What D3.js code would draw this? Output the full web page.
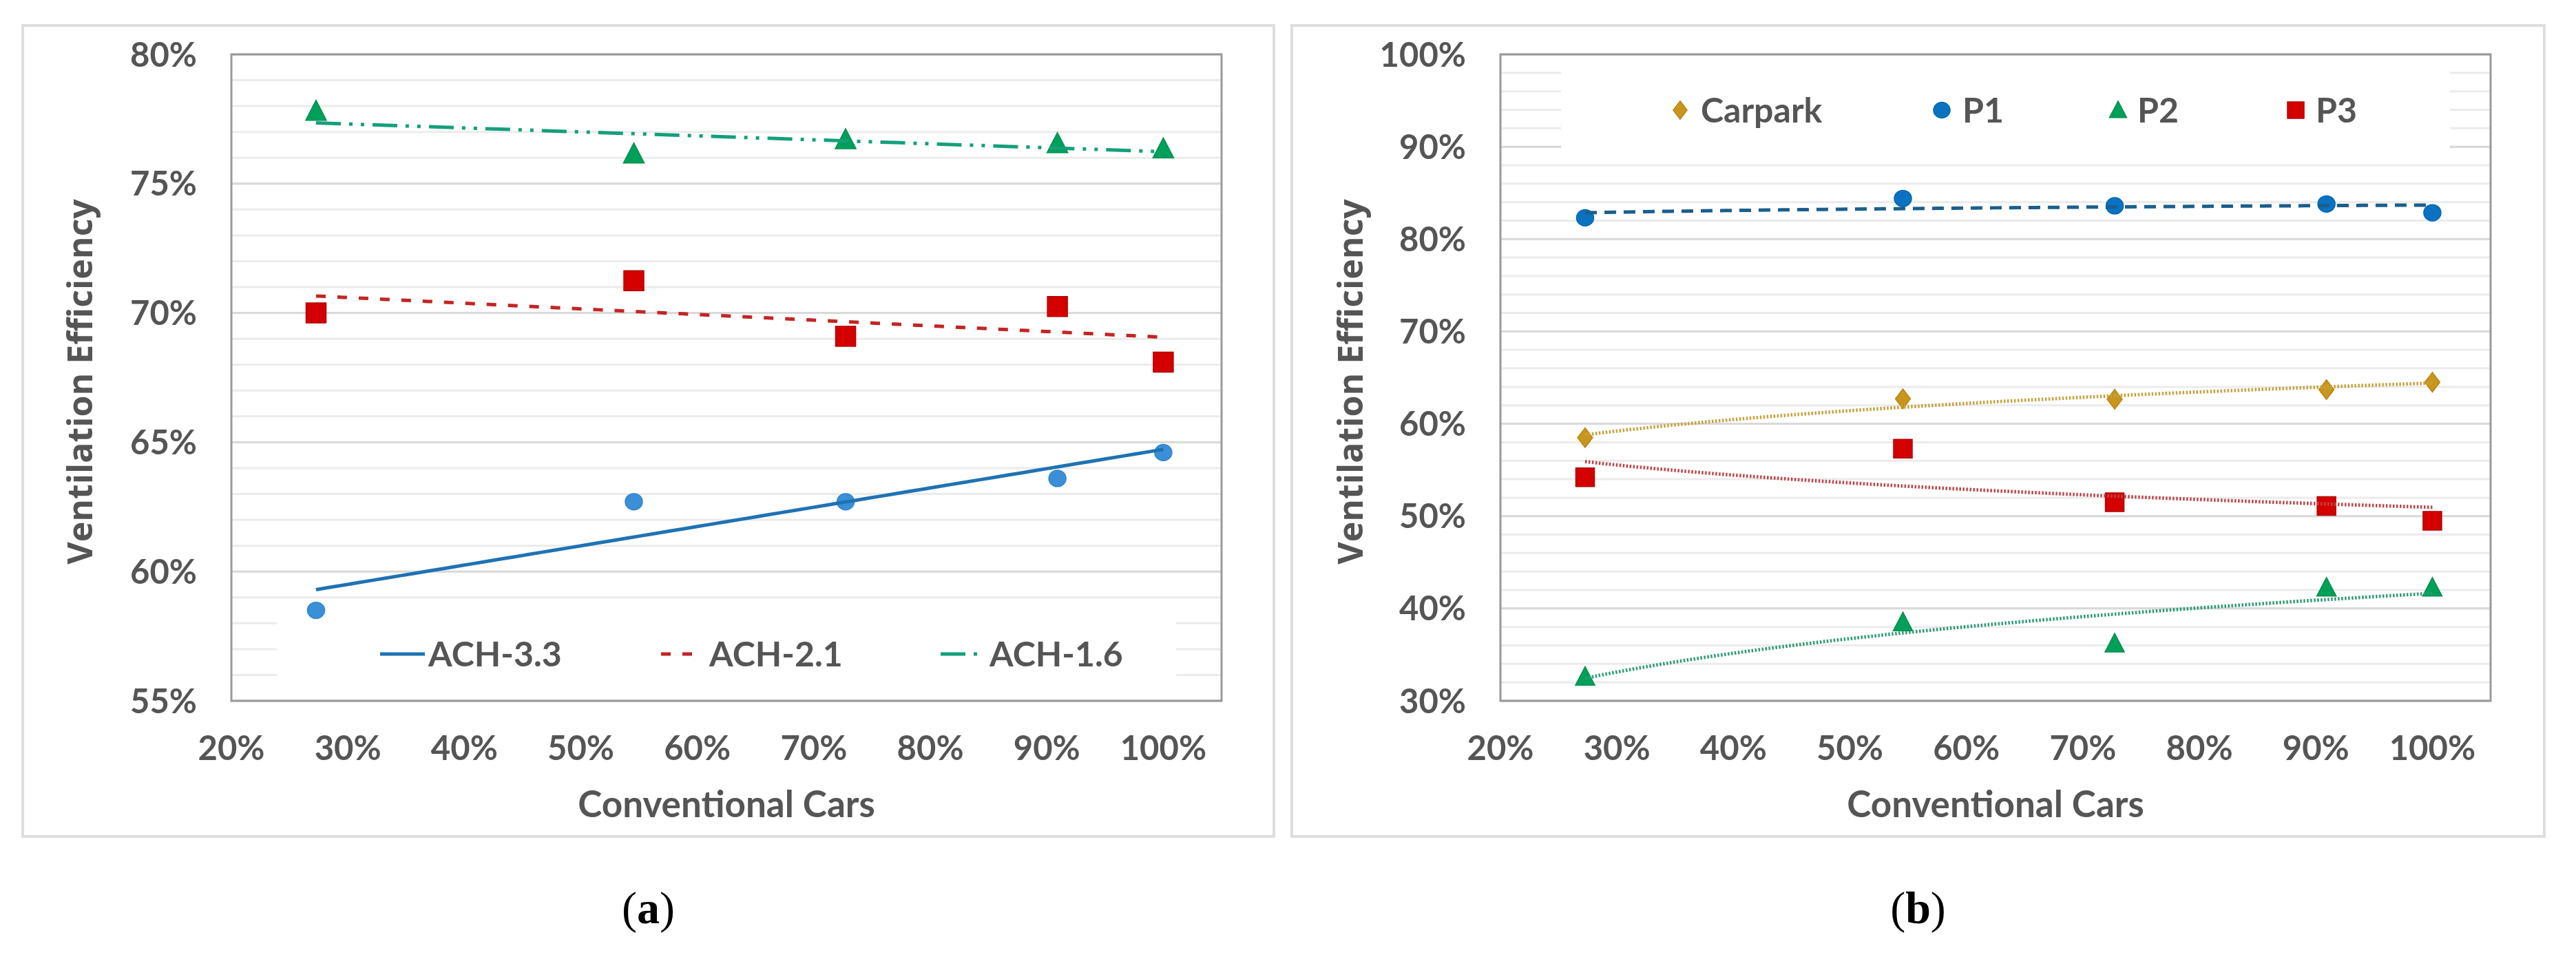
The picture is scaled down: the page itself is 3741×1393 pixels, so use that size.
<!DOCTYPE html>
<html><head><meta charset="utf-8">
<script src="https://cdn.jsdelivr.net/npm/d3@7"></script>
<style>html,body{margin:0;padding:0;background:#fff;} svg{display:block}</style>
</head><body>
<svg id="chart" width="3741" height="1393"></svg>
<script>
// ---------- data ----------
const conventionalCars = [0.2727, 0.5455, 0.7273, 0.9091, 1.0];
const xTickValues = [0.2, 0.3, 0.4, 0.5, 0.6, 0.7, 0.8, 0.9, 1.0];
const yTicksA = [0.55, 0.60, 0.65, 0.70, 0.75, 0.80];
const yTicksB = [0.3, 0.4, 0.5, 0.6, 0.7, 0.8, 0.9, 1.0];

const seriesNamesA = ["ACH-3.3", "ACH-2.1", "ACH-1.6"];
const ach33 = [0.585, 0.627, 0.627, 0.636, 0.646];
const ach21 = [0.700, 0.7125, 0.691, 0.7025, 0.681];
const ach16 = [0.778, 0.7615, 0.767, 0.7655, 0.7635];

const seriesNamesB = ["Carpark", "P1", "P2", "P3"];
const carpark = [0.585, 0.627, 0.6265, 0.637, 0.645];
const p1 = [0.823, 0.844, 0.836, 0.838, 0.8285];
const p2 = [0.326, 0.385, 0.362, 0.4225, 0.4225];
const p3 = [0.542, 0.573, 0.515, 0.511, 0.495];

const panelLabels = ["a", "b"];
const xTitle = "Conventional Cars";
const yTitle = "Ventilation Efficiency";

// ---------- helpers ----------
const svg = d3.select("#chart");
svg.append("rect").attr("width", 3741).attr("height", 1393).attr("fill", "#fff");
const FONT = "Lato, 'Open Sans', 'DejaVu Sans', sans-serif";
const FONT_Y = "'Open Sans', Lato, 'DejaVu Sans', sans-serif";
const TXT = "#555555";
const pct = d3.format(".0%");

function fitLinear(xs, ys) {
  const mx = d3.mean(xs), my = d3.mean(ys);
  let sxy = 0, sxx = 0;
  xs.forEach((x, i) => { sxy += (x - mx) * (ys[i] - my); sxx += (x - mx) ** 2; });
  const b = sxy / sxx, a = my - b * mx;
  return x => a + b * x;
}
function fitLog(xs, ys) {
  const lx = xs.map(Math.log);
  const f = fitLinear(lx, ys);
  return x => f(Math.log(x));
}

function markerPath(type, size) {
  const s = size;
  if (type === "square") return `M${-s/2},${-s/2}h${s}v${s}h${-s}Z`;
  if (type === "triangle") return `M0,${-s*0.55}L${s*0.52},${s*0.45}L${-s*0.52},${s*0.45}Z`;
  if (type === "diamond") return `M0,${-s*0.55}L${s*0.42},0L0,${s*0.55}L${-s*0.42},0Z`;
  return null;
}
function drawMarker(g, type, size, fill, stroke) {
  if (type === "circle") {
    return g.append("ellipse").attr("rx", size / 2).attr("ry", size / 2 * 0.95)
      .attr("fill", fill).attr("stroke", stroke || fill).attr("stroke-width", 1.5);
  }
  return g.append("path").attr("d", markerPath(type, size))
    .attr("fill", fill).attr("stroke", stroke || fill).attr("stroke-width", 1.5);
}

function drawPanel(cfg) {
  const g = svg.append("g");
  // outer frame
  g.append("rect").attr("x", cfg.frame[0]).attr("y", cfg.frame[1])
    .attr("width", cfg.frame[2] - cfg.frame[0]).attr("height", cfg.frame[3] - cfg.frame[1])
    .attr("fill", "#fff").attr("stroke", "#DEDEDE").attr("stroke-width", 4);

  const x = d3.scaleLinear().domain([0.2, 1.05]).range([cfg.left, cfg.right]);
  const y = d3.scaleLinear().domain(cfg.yDomain).range([cfg.bottom, cfg.top]);

  // minor gridlines
  const minor = d3.range(cfg.yDomain[0], cfg.yDomain[1] + 1e-9, cfg.minorStep);
  g.append("g").selectAll("line").data(minor).join("line")
    .attr("x1", cfg.left).attr("x2", cfg.right)
    .attr("y1", d => y(d)).attr("y2", d => y(d))
    .attr("stroke", "#EBEBEB").attr("stroke-width", 3);
  // major gridlines
  g.append("g").selectAll("line").data(cfg.yTicks).join("line")
    .attr("x1", cfg.left).attr("x2", cfg.right)
    .attr("y1", d => y(d)).attr("y2", d => y(d))
    .attr("stroke", "#D9D9D9").attr("stroke-width", 3);

  // legend background (covers gridlines)
  g.append("rect").attr("x", cfg.legendBox[0]).attr("y", cfg.legendBox[1])
    .attr("width", cfg.legendBox[2] - cfg.legendBox[0]).attr("height", cfg.legendBox[3] - cfg.legendBox[1])
    .attr("fill", "#fff");

  // plot border
  g.append("rect").attr("x", cfg.left).attr("y", cfg.top)
    .attr("width", cfg.right - cfg.left).attr("height", cfg.bottom - cfg.top)
    .attr("fill", "none").attr("stroke", "#9A9A9A").attr("stroke-width", 3);

  // y tick labels
  g.append("g").selectAll("text").data(cfg.yTicks).join("text")
    .attr("x", cfg.left - 50).attr("y", d => y(d)).attr("dy", "0.36em")
    .attr("text-anchor", "end").attr("font-family", FONT).attr("font-weight", 700)
    .attr("font-size", 49).attr("fill", TXT).text(d => pct(d));
  // x tick labels
  g.append("g").selectAll("text").data(xTickValues).join("text")
    .attr("x", d => x(d)).attr("y", cfg.bottom + 68).attr("dy", "0.36em")
    .attr("text-anchor", "middle").attr("font-family", FONT).attr("font-weight", 700)
    .attr("font-size", 49).attr("fill", TXT).text(d => pct(d));

  // axis titles
  g.append("text").attr("x", (cfg.left + cfg.right) / 2).attr("y", cfg.bottom + 150).attr("dy", "0.36em")
    .attr("text-anchor", "middle").attr("font-family", FONT).attr("font-weight", 700)
    .attr("font-size", 53).attr("fill", TXT).text(xTitle);
  g.append("text").attr("transform", `translate(${cfg.yTitleX},${(cfg.top + cfg.bottom) / 2 + 6}) rotate(-90)`)
    .attr("dy", "0.36em").attr("text-anchor", "middle").attr("font-family", FONT_Y).attr("font-weight", 700)
    .attr("font-size", 50).attr("fill", TXT).text(yTitle);

  // markers
  cfg.series.forEach(s => {
    const mg = g.append("g");
    s.values.forEach((v, i) => {
      const m = mg.append("g").attr("transform", `translate(${x(conventionalCars[i])},${y(v)})`);
      drawMarker(m, s.marker, s.size, s.color, s.edge);
    });
  });
  // trendlines
  cfg.series.forEach(s => {
    const f = s.fit(conventionalCars, s.values);
    const x0 = conventionalCars[0], x1 = conventionalCars[conventionalCars.length - 1];
    const pts = d3.range(0, 61).map(k => x0 + (x1 - x0) * k / 60);
    g.append("path").datum(pts)
      .attr("d", d3.line().x(d => x(d)).y(d => y(f(d))))
      .attr("fill", "none").attr("stroke", s.lineColor).attr("stroke-width", s.lineWidth)
      .attr("stroke-dasharray", s.dash || null);
  });

  // legend
  cfg.legend.forEach(l => {
    const lg = g.append("g");
    if (l.kind === "line") {
      lg.append("line").attr("x1", l.x1).attr("x2", l.x2).attr("y1", cfg.legendY).attr("y2", cfg.legendY)
        .attr("stroke", l.s.lineColor).attr("stroke-width", l.s.lineWidth).attr("stroke-dasharray", l.s.dash || null);
    } else {
      const m = lg.append("g").attr("transform", `translate(${l.mx},${cfg.legendY})`);
      drawMarker(m, l.s.marker, l.s.legendSize, l.s.color, l.s.edge);
    }
    lg.append("text").attr("x", l.tx).attr("y", cfg.legendY).attr("dy", "0.36em")
      .attr("font-family", FONT).attr("font-weight", 700).attr("font-size", 50).attr("fill", TXT)
      .text(l.s.name);
  });

  // panel label
  const pl = svg.append("text").attr("x", (cfg.frame[0] + cfg.frame[2]) / 2).attr("y", 1318).attr("dy", "0.35em")
    .attr("text-anchor", "middle").attr("font-family", "'Liberation Serif', 'DejaVu Serif', serif")
    .attr("font-size", 66).attr("fill", "#000");
  pl.append("tspan").text("(");
  pl.append("tspan").attr("font-weight", 700).text(cfg.label);
  pl.append("tspan").text(")");
}

// ---------- panel (a) ----------
const sA = [
  { name: seriesNamesA[0], values: ach33, marker: "circle", size: 25, legendSize: 24, color: "#3A8FD6", edge: "#2F86CF",
    lineColor: "#1F72B4", lineWidth: 5, dash: null, fit: fitLinear },
  { name: seriesNamesA[1], values: ach21, marker: "square", size: 29, legendSize: 26, color: "#D40000", edge: "#B00000",
    lineColor: "#C42424", lineWidth: 5, dash: "14,17", fit: fitLinear },
  { name: seriesNamesA[2], values: ach16, marker: "triangle", size: 29, legendSize: 26, color: "#00A05A", edge: "#00904F",
    lineColor: "#14A07A", lineWidth: 5, dash: "36,12,5,12,5,12", fit: fitLinear }
];
drawPanel({
  label: panelLabels[0],
  frame: [33, 37, 1850, 1215],
  left: 336, right: 1774, top: 79, bottom: 1018,
  yDomain: [0.55, 0.80], yTicks: yTicksA, minorStep: 0.01,
  yTitleX: 116,
  legendBox: [402, 885, 1708, 1012],
  legendY: 950,
  series: sA,
  legend: [
    { kind: "line", s: sA[0], x1: 552, x2: 617, tx: 622 },
    { kind: "line", s: sA[1], x1: 960, x2: 1010, tx: 1030 },
    { kind: "line", s: sA[2], x1: 1366, x2: 1422, tx: 1437 }
  ]
});

// ---------- panel (b) ----------
const sB = [
  { name: seriesNamesB[0], values: carpark, marker: "diamond", size: 26, legendSize: 24, color: "#C8961E", edge: "#B8870F",
    lineColor: "#C9A23C", lineWidth: 5, dash: "2.5,2.5", fit: fitLog },
  { name: seriesNamesB[1], values: p1, marker: "circle", size: 25, legendSize: 24, color: "#0A72C0", edge: "#0068B5",
    lineColor: "#1A5F8C", lineWidth: 5, dash: "17,11", fit: fitLog },
  { name: seriesNamesB[2], values: p2, marker: "triangle", size: 27, legendSize: 24, color: "#00A056", edge: "#009050",
    lineColor: "#2E9C72", lineWidth: 5, dash: "2.5,2.5", fit: fitLog },
  { name: seriesNamesB[3], values: p3, marker: "square", size: 27, legendSize: 24, color: "#D40000", edge: "#B00000",
    lineColor: "#C0464A", lineWidth: 5, dash: "2.5,2.5", fit: fitLog }
];
drawPanel({
  label: panelLabels[1],
  frame: [1876, 37, 3695, 1215],
  left: 2179, right: 3617, top: 79, bottom: 1018,
  yDomain: [0.3, 1.0], yTicks: yTicksB, minorStep: 0.02,
  yTitleX: 1961,
  legendBox: [2267, 98, 3558, 228],
  legendY: 160,
  series: sB,
  legend: [
    { kind: "marker", s: sB[0], mx: 2440, tx: 2470 },
    { kind: "marker", s: sB[1], mx: 2820, tx: 2850 },
    { kind: "marker", s: sB[2], mx: 3076, tx: 3104 },
    { kind: "marker", s: sB[3], mx: 3334, tx: 3363 }
  ]
});
</script>
</body></html>
